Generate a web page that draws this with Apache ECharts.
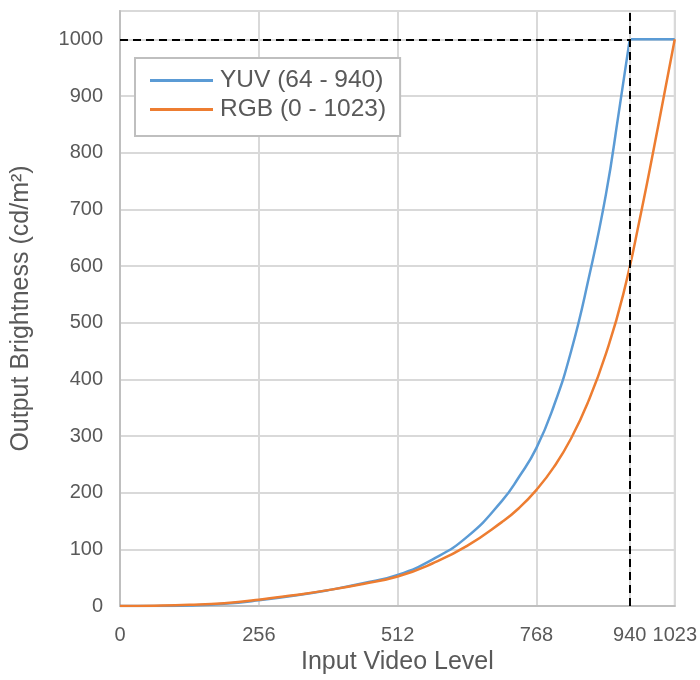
<!DOCTYPE html>
<html>
<head>
<meta charset="utf-8">
<script src="https://cdn.jsdelivr.net/npm/echarts@6/dist/echarts.min.js"></script>
<style>
  html, body { margin: 0; padding: 0; background: #fff; }
</style>
</head>
<body>
<div id="chart" style="width: 700px; height: 680px"></div>
<script>
// input level -> brightness
// YUV rises from 64 up to 940, then stays flat at the peak
const yuvLevels = [0, 64, 128, 192, 256, 320, 384, 448, 512, 576, 640, 704, 736, 768, 800, 832, 864, 896, 920, 940];
const yuvValues = [0, 0, 1, 4, 10, 18, 28, 40, 55, 82, 122, 185, 228, 279, 353, 450, 577, 726, 872, 1000];
const yuvFlatLevels = [940, 1023];
const yuvFlatValues = [1000, 1000];

const rgbLevels = [0, 64, 128, 192, 256, 320, 384, 448, 512, 576, 640, 704, 736, 768, 800, 832, 864, 896, 928, 960, 992, 1023];
const rgbValues = [0, 0.5, 2, 5, 11, 19, 28, 39, 52, 75, 106, 148, 173, 205, 245, 296, 362, 445, 550, 690, 845, 1000];

const seriesNames = ["YUV (64 - 940)", "RGB (0 - 1023)"];
const xTickLabels = [0, 256, 512, 768, 940, 1023];
const refLevel = 940;   // vertical dashed line
const refPeak = 1000;   // horizontal dashed line

const textColor = "#595959";
const fontFamily = "'Liberation Sans', Arial, sans-serif";
const blue = "#5B9BD5";
const orange = "#ED7D31";

function pairs(xs, ys) {
  return xs.map((x, i) => [x, ys[i]]);
}

const chart = echarts.init(document.getElementById("chart"));

const dashStyle = { color: "#000", width: 2, type: [8, 5] };
const faintStyle = { color: "#d9d9d9", width: 2, type: "solid" };

const option = {
  animation: false,
  textStyle: { fontFamily: fontFamily },
  grid: {
    left: 120,
    right: 24,
    top: 11,
    bottom: 72,
    show: true,
    borderColor: "#d4d4d4",
    borderWidth: 2,
  },
  legend: {
    orient: "vertical",
    left: 135,
    top: 58,
    backgroundColor: "#fff",
    borderColor: "#bfbfbf",
    borderWidth: 2,
    borderRadius: 0,
    padding: [10, 14, 14, 15],
    icon: "rect",
    itemWidth: 63,
    itemHeight: 3,
    itemGap: 4,
    textStyle: { fontSize: 24.5, lineHeight: 25, color: textColor, fontFamily: fontFamily, padding: [0, 0, 0, 2] },
    data: seriesNames,
  },
  xAxis: {
    type: "value",
    min: 0,
    max: 1023,
    interval: 256,
    name: "Input Video Level",
    nameLocation: "middle",
    nameGap: 44,
    nameTextStyle: { fontSize: 25, color: textColor, fontFamily: fontFamily },
    axisLine: { show: true, lineStyle: { color: "#bfbfbf", width: 2 } },
    axisTick: { show: false },
    axisLabel: {
      customValues: xTickLabels,
      formatter: (v) => String(v),
      fontSize: 20,
      color: textColor,
      margin: 19,
      fontFamily: fontFamily,
    },
    splitLine: { show: true, lineStyle: { color: "#d9d9d9", width: 2 } },
  },
  yAxis: {
    type: "value",
    min: 0,
    max: 1050,
    interval: 100,
    name: "Output Brightness (cd/m²)",
    nameLocation: "middle",
    nameGap: 86,
    nameTextStyle: { fontSize: 25, color: textColor, fontFamily: fontFamily },
    axisLine: { show: true, lineStyle: { color: "#bfbfbf", width: 2 } },
    axisTick: { show: false },
    axisLabel: {
      formatter: (v) => String(v),
      fontSize: 20,
      color: textColor,
      margin: 17,
      showMaxLabel: false,
      fontFamily: fontFamily,
    },
    splitLine: { show: true, lineStyle: { color: "#d9d9d9", width: 2 } },
  },
  series: [
    {
      name: seriesNames[0],
      type: "line",
      data: pairs(yuvLevels, yuvValues),
      symbol: "none",
      smooth: 0.5,
      lineStyle: { color: blue, width: 2.5 },
      itemStyle: { color: blue },
      markLine: {
        silent: true,
        symbol: "none",
        label: { show: false },
        data: [
          [
            { coord: [refLevel, 0], lineStyle: faintStyle },
            { coord: [refLevel, 1050], lineStyle: faintStyle },
          ],
          [
            { coord: [refLevel, 0], lineStyle: dashStyle },
            { coord: [refLevel, 1050], lineStyle: dashStyle },
          ],
          [
            { coord: [0, refPeak], lineStyle: dashStyle },
            { coord: [refLevel, refPeak], lineStyle: dashStyle },
          ],
        ],
      },
    },
    {
      // flat top of the YUV curve, same legend entry
      name: seriesNames[0],
      type: "line",
      data: pairs(yuvFlatLevels, yuvFlatValues),
      symbol: "none",
      lineStyle: { color: blue, width: 2.5 },
      itemStyle: { color: blue },
    },
    {
      name: seriesNames[1],
      type: "line",
      data: pairs(rgbLevels, rgbValues),
      symbol: "none",
      smooth: 0.5,
      lineStyle: { color: orange, width: 2.5 },
      itemStyle: { color: orange },
    },
  ],
};

chart.setOption(option);
</script>
</body>
</html>
